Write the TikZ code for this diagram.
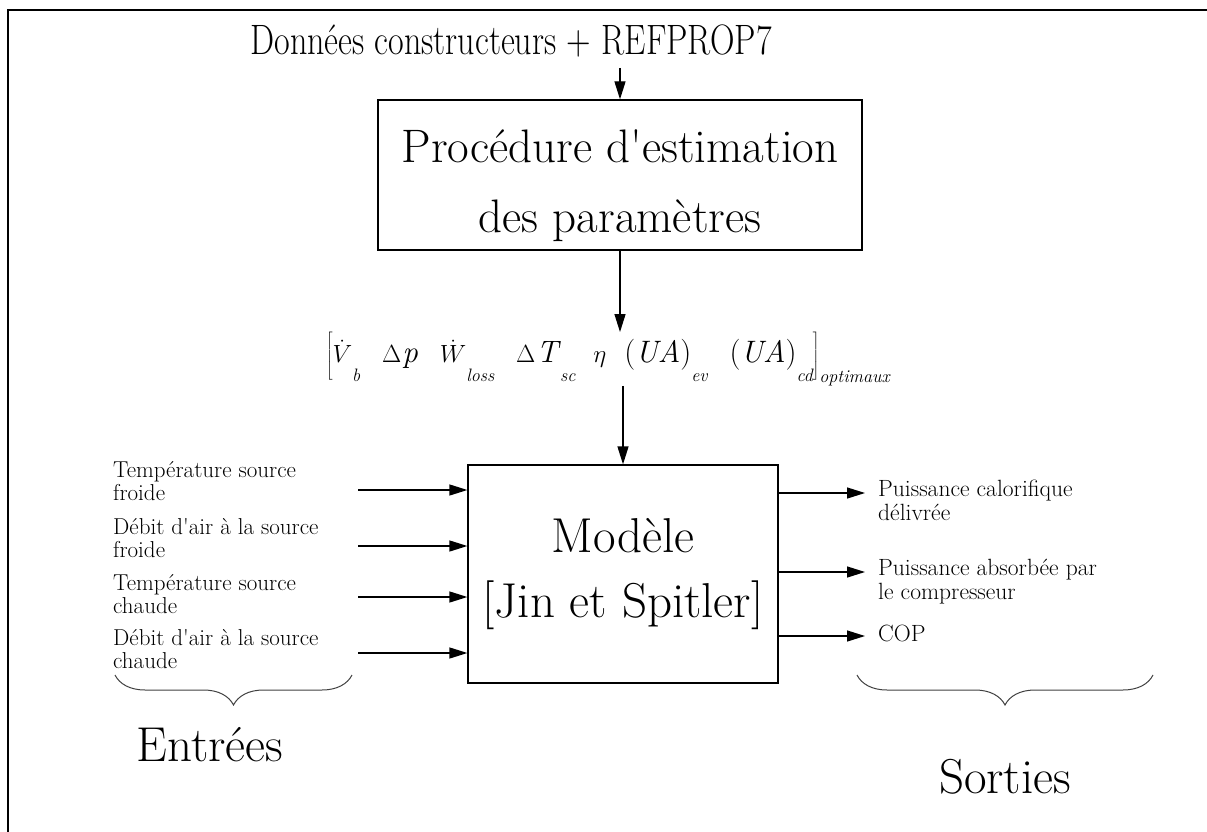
\documentclass[tikz,border=0pt]{standalone}
\usepackage{fontspec}
\usepackage{graphicx}
\usetikzlibrary{arrows.meta,decorations.pathreplacing}
\newcommand{\sbx}[1]{\raisebox{-0.6em}{\fontsize{18}{18}\selectfont\itshape #1}}
\newcommand{\apos}{\textquotesingle}
\tikzset{
  box/.style={draw, line width=1.3pt, align=center, inner sep=0pt},
  arr/.style={line width=1.3pt, -{Triangle[length=18pt,width=11pt]}},
  lab/.style={font=\fontsize{23}{23}\selectfont, align=left, anchor=north west, inner sep=0pt},
  rlab/.style={lab, font=\fontsize{23.5}{23.5}\selectfont},
  titletxt/.style={font=\fontsize{34}{40}\selectfont},
  boxtxt/.style={font=\fontsize{47}{70}\selectfont},
  modtxt/.style={font=\fontsize{49}{65}\selectfont},
  bigtxt/.style={font=\fontsize{49}{55}\selectfont},
  brc/.style={decorate, decoration={brace, amplitude=30pt, mirror}, line width=1pt, black!75},
}
\begin{document}
\begin{tikzpicture}[x=1pt,y=-1pt]
\useasboundingbox (0,0) rectangle (1207,832);
\draw[line width=2.5pt] (8,832) -- (8,10) -- (1207,10);

\node[titletxt, anchor=base, inner sep=0pt] (title) at (511,55) {\scalebox{1}[1.25]{Données constructeurs + REFPROP7}};
\node[box, boxtxt, minimum width=484pt, minimum height=150pt] (proc) at (620,175) {\rule{0pt}{55pt}Procédure d\apos estimation\\des paramètres};
\node[inner sep=0pt] (par) at (608,359) {\itshape\fontsize{31}{32}\selectfont
  $\left[\rule[-18pt]{0pt}{46pt}\hbox{$\dot{V}$\sbx{b}\hspace{22pt}$\Delta$\hspace{1pt}p\hspace{22pt}$\dot{W}$\sbx{loss}\hspace{22pt}$\Delta$\hspace{1pt}T\hspace{2pt}\sbx{sc}\hspace{18pt}$\eta$\hspace{18pt}{\upshape(}UA{\upshape)}\sbx{ev}\hspace{22pt}{\upshape(}UA{\upshape)}\sbx{cd}}\right]_{\hbox{\fontsize{18}{18}\selectfont\itshape optimaux}}$};
\node[box, modtxt, minimum width=310pt, minimum height=218pt] (model) at (623,574) {Modèle\\{}[Jin et Spitler]};

\draw[arr] (proc.north |- title.south) ++(0,10) -- (proc.north);
\draw[arr] (proc.south) -- (proc.south |- par.north);
\draw[arr] (model.north |- par.south) -- (model.north);

% inputs
\coordinate (i1) at (358,490);
\coordinate (i2) at (358,546);
\coordinate (i3) at (358,597);
\coordinate (i4) at (358,653);
\draw[arr] (i1) -- (i1 -| model.west);
\draw[arr] (i2) -- (i2 -| model.west);
\draw[arr] (i3) -- (i3 -| model.west);
\draw[arr] (i4) -- (i4 -| model.west);
\node[lab] (l1) at (113,461) {Température source\\froide};
\node[lab] (l2) at (113,518) {Débit d\apos air à la source\\froide};
\node[lab] (l3) at (113,574) {Température source\\chaude};
\node[lab] (l4) at (113,629) {Débit d\apos air à la source\\chaude};

% outputs
\coordinate (o1) at (865,493);
\coordinate (o2) at (865,572);
\coordinate (o3) at (865,636);
\draw[arr] (o1 -| model.east) -- (o1);
\draw[arr] (o2 -| model.east) -- (o2);
\draw[arr] (o3 -| model.east) -- (o3);
\node[rlab] (r1) at (878,480) {Puissance calorifique\\délivrée};
\node[rlab] (r2) at (878,559) {Puissance absorbée par\\le compresseur};
\node[rlab] (r3) at (878,625) {COP};

% braces
\coordinate (b1a) at (115,675);
\coordinate (b1b) at (352,675);
\coordinate (b2a) at (857,675);
\coordinate (b2b) at (1153,675);
\draw[brc] (b1a) -- (b1b);
\draw[brc] (b2a) -- (b2b);
\node[bigtxt] (ent) at (210,745) {Entrées};
\node[bigtxt] (sor) at (1005,777) {Sorties};
\end{tikzpicture}
\end{document}
